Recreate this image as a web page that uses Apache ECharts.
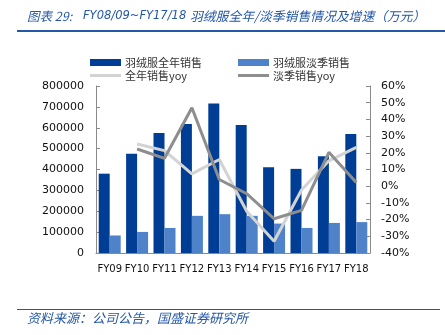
<!DOCTYPE html>
<html>
<head>
<meta charset="utf-8">
<script src="https://cdn.jsdelivr.net/npm/echarts@6/dist/echarts.min.js"></script>
<style>
  html, body { margin: 0; padding: 0; background: #ffffff; }
  #chart { width: 445px; height: 335px; }
</style>
</head>
<body>
<div id="chart"></div>
<script>
// Fiscal years
const categories = ['FY09', 'FY10', 'FY11', 'FY12', 'FY13', 'FY14', 'FY15', 'FY16', 'FY17', 'FY18'];
// Down-jacket sales, full year and off-season (10k yuan)
const fullYearSales = [380000, 475000, 575000, 618000, 716000, 613000, 411000, 403000, 463000, 570000];
const offSeasonSales = [84000, 101000, 120000, 178000, 186000, 178000, 141000, 120000, 144000, 148000];
// Year-over-year growth (%), starting FY10
const fullYearYoy = [null, 25.3, 21.3, 7.4, 16.0, -15.0, -33.0, -2.3, 15.2, 23.3];
const offSeasonYoy = [null, 22.3, 16.7, 47.0, 4.0, -4.5, -19.5, -14.5, 20.3, 2.2];

const seriesNames = ['羽绒服全年销售', '羽绒服淡季销售', '全年销售yoy', '淡季销售yoy'];
const colors = ['#003E96', '#4F83C9', '#D3D3D3', '#8E8E8E'];

const latin = '"DejaVu Sans", "Noto Sans CJK SC", sans-serif';
const cjk = '"Noto Sans CJK SC", "DejaVu Sans", sans-serif';
const titleBlue = '#2457A8';

const chart = echarts.init(document.getElementById('chart'), null, { renderer: 'canvas' });

function legendItem(name, left, top, h) {
  return {
    data: [{ name: name, icon: 'rect' }],
    left: left, top: top,
    itemWidth: 31, itemHeight: h,
    itemGap: 0, padding: 0,
    textStyle: { fontFamily: cjk, fontSize: 11, color: '#333', padding: [0, 0, 0, -1] },
    selectedMode: false
  };
}

function titleText(text, x, size, family) {
  return {
    type: 'text', x: x, y: 16,
    style: {
      text: text, fontSize: size, fontStyle: 'italic', fontFamily: family,
      fill: titleBlue, verticalAlign: 'middle', align: 'left'
    }
  };
}

chart.setOption({
  animation: false,
  color: colors,
  grid: { left: 96, right: 75, top: 86, bottom: 82 },
  legend: [
    legendItem(seriesNames[0], 90, 57, 7),
    legendItem(seriesNames[1], 238, 57, 7),
    legendItem(seriesNames[2], 90, 70, 3),
    legendItem(seriesNames[3], 238, 70, 3)
  ],
  xAxis: {
    type: 'category',
    data: categories,
    axisLine: { lineStyle: { color: '#8A8A8A', width: 1 } },
    axisTick: { show: false },
    axisLabel: { interval: 0, fontFamily: latin, fontSize: 10, color: '#111', margin: 11 }
  },
  yAxis: [
    {
      type: 'value', min: 0, max: 800000, interval: 100000,
      splitLine: { show: false },
      axisLine: { show: true, lineStyle: { color: '#8A8A8A' } },
      axisTick: { show: true, inside: true, length: 4, lineStyle: { color: '#8A8A8A' } },
      axisLabel: {
        fontFamily: latin, fontSize: 11, color: '#111', margin: 12,
        formatter: function (v) { return String(v); }
      }
    },
    {
      type: 'value', min: -40, max: 60, interval: 10, position: 'right',
      splitLine: { show: false },
      axisLine: { show: true, lineStyle: { color: '#8A8A8A' } },
      axisTick: { show: true, inside: true, length: 4, lineStyle: { color: '#8A8A8A' } },
      axisLabel: { fontFamily: latin, fontSize: 11, color: '#111', margin: 11, formatter: '{value}%' }
    }
  ],
  series: [
    {
      name: seriesNames[0], type: 'bar', data: fullYearSales,
      barWidth: 11, barGap: '0%', itemStyle: { color: colors[0] }
    },
    {
      name: seriesNames[1], type: 'bar', data: offSeasonSales,
      barWidth: 11, barGap: '0%', itemStyle: { color: colors[1] }
    },
    {
      name: seriesNames[2], type: 'line', yAxisIndex: 1, data: fullYearYoy,
      symbol: 'none', lineStyle: { width: 3, color: colors[2] }, itemStyle: { color: colors[2] }
    },
    {
      name: seriesNames[3], type: 'line', yAxisIndex: 1, data: offSeasonYoy,
      symbol: 'none', lineStyle: { width: 3, color: colors[3] }, itemStyle: { color: colors[3] }
    }
  ],
  graphic: [
    titleText('图表 29:', 27, 12.5, cjk),
    titleText('FY08/09~FY17/18', 83, 11.5, latin),
    titleText('羽绒服全年/淡季销售情况及增速（万元）', 190, 12.8, cjk),
    {
      type: 'rect', shape: { x: 17, y: 30, width: 428, height: 2 },
      style: { fill: titleBlue }
    },
    {
      type: 'rect', shape: { x: 17, y: 309, width: 423, height: 1 },
      style: { fill: titleBlue }
    },
    {
      type: 'text', x: 27, y: 318,
      style: {
        text: '资料来源：公司公告，国盛证券研究所',
        fontSize: 13, fontStyle: 'italic', fontFamily: cjk,
        fill: titleBlue, verticalAlign: 'middle', align: 'left'
      }
    }
  ]
});
</script>
</body>
</html>
